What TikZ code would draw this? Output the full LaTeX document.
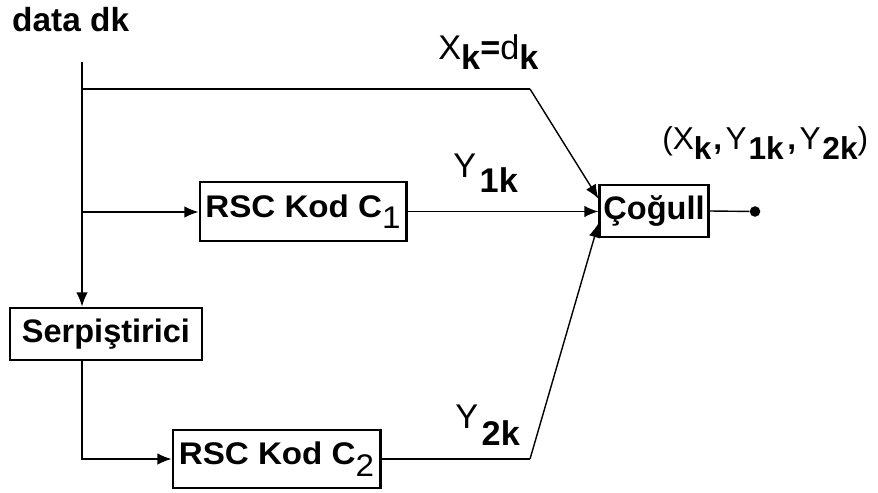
\documentclass[tikz,border=0pt]{standalone}
\usepackage{fontspec}
\setmainfont{Liberation Sans}
\newfontfamily\genis{Liberation Sans}[FakeStretch=1.06]
\usetikzlibrary{arrows.meta, positioning}

\tikzset{
  blok/.style={draw, line width=1.7pt, inner sep=2pt, font=\fontsize{18.5}{22}\selectfont\bfseries},
  rscblok/.style={blok, font=\genis\fontsize{17.8}{21}\selectfont\bfseries},
  hat/.style={line width=0.8pt},
  ok/.style={hat, -{Latex[length=8pt,width=6.5pt]}},
  etiket/.style={anchor=base west, inner sep=0pt, font=\fontsize{19.5}{23}\selectfont}
}
\newcommand{\indis}[2][5.5pt]{\raisebox{-#1}{\textbf{#2}}}
\newcommand{\kutuindis}[1]{\raisebox{-6.5pt}{\mdseries #1}}

\begin{document}
\begin{tikzpicture}
  \useasboundingbox (0,0) rectangle (17.56,9.84);
  % giris ve dallanma noktalari
  \node[anchor=west, font=\fontsize{19}{22}\selectfont\bfseries] (veri) at (0.12,9.44) {data dk};
  \coordinate (bas) at (1.64,8.6);
  \coordinate (ust) at (1.64,8.06);
  \coordinate (orta) at (1.64,5.6);
  \coordinate (ustk) at (10.6,8.06);
  % bloklar
  \node[rscblok, minimum width=4.12cm, minimum height=1.18cm] (rsc1) at (6.06,5.61) {RSC Kod C\kutuindis{1}};
  \node[blok, minimum width=2.16cm, minimum height=1.04cm] (cogul) at (13.08,5.62) {Çoğull};
  \node[blok, minimum width=3.84cm, minimum height=1.04cm] (serp) at (2.12,3.16) {Serpiştirici};
  \node[rscblok, minimum width=4.14cm, minimum height=1.16cm] (rsc2) at (5.53,0.66) {RSC Kod C\kutuindis{2}};
  \node[circle, fill, inner sep=0pt, minimum size=6pt] (cikis) at (15.1,5.61) {};
  \coordinate (altk) at (10.6,0.66);
  % baglantilar
  \draw[ok] (bas) -- (bas |- serp.north);
  \draw[hat] (ust) -- (ustk);
  \draw[ok] (ustk) -- ([yshift=7pt]cogul.west);
  \draw[ok] (orta) -- (orta -| rsc1.west);
  \draw[ok] (rsc1.east) -- (rsc1.east -| cogul.west);
  \draw[hat] (cogul.east) -- (cikis);
  \draw[ok] (bas |- serp.south) -- (bas |- rsc2.west) -- (rsc2.west);
  \draw[hat] (rsc2.east) -- (altk);
  \draw[ok] (altk) -- ([yshift=-7pt]cogul.west);
  % etiketler
  \node[etiket] (xk) at (8.76,8.64) {X\indis{k}\textbf{=}d\indis{k}};
  \node[etiket] (y1) at (9.06,6.28) {Y\hspace{2pt}\indis[8.5pt]{1k}};
  \node[etiket] (y2) at (9.1,1.28) {Y\hspace{2pt}\indis[10pt]{2k}};
  \node[etiket, font=\fontsize{18}{22}\selectfont] (cikt) at (13.24,6.84) {(X\indis{k}\hspace{1pt}\textbf{,}\hspace{2pt}Y\hspace{1pt}\indis{1k}\hspace{2pt}\textbf{,}\hspace{2pt}Y\hspace{1pt}\indis{2k})};
\end{tikzpicture}
\end{document}
